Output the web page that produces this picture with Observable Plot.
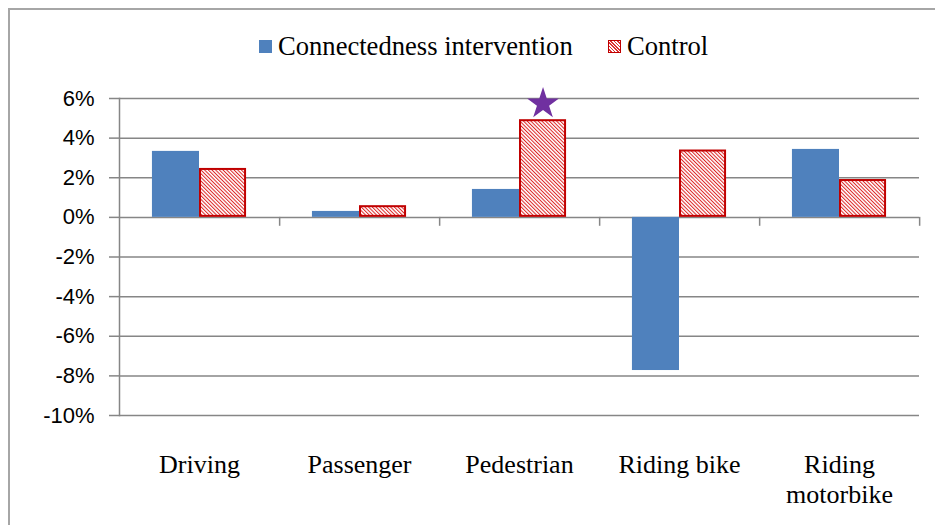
<!DOCTYPE html>
<html><head><meta charset="utf-8">
<script src="https://cdn.jsdelivr.net/npm/d3@7"></script>
<script src="https://cdn.jsdelivr.net/npm/@observablehq/plot@0.6"></script>
<style>
body{margin:0;background:#fff}
#wrap{position:relative;width:935px;height:525px;overflow:hidden;background:#fff}
#border{position:absolute;left:8px;top:8px;width:1000px;height:1000px;border-top:2px solid #a6a6a6;border-left:2px solid #a6a6a6;box-sizing:border-box;pointer-events:none}
#legend{position:relative;height:70px;font-family:"Liberation Serif",serif;font-size:26.6px;color:#000}
.item{position:absolute;top:33px;display:flex;align-items:center;line-height:26px;white-space:nowrap}
.sw{width:13px;height:13px;margin-right:6px;box-sizing:border-box}
</style></head>
<body><div id="wrap"><div id="legend"></div><div id="chart"></div><div id="border"></div></div>
<script>
const categories = ["Driving","Passenger","Pedestrian","Riding bike","Riding motorbike"];
const categoryLabels = ["Driving","Passenger","Pedestrian","Riding bike","Riding\nmotorbike"];
const seriesNames = ["Connectedness intervention","Control"];
const interventionValues = [3.33, 0.30, 1.41, -7.73, 3.43];
const controlValues = [2.47, 0.59, 4.93, 3.40, 1.91];
const yTicks = [-10,-8,-6,-4,-2,0,2,4,6];
const starCategory = "Pedestrian";
const starSeries = "Control";

const blue = "#4F81BD", red = "#C00000", grid = "#868686", purple = "#7030A0";

const rows = categories.flatMap((c,i)=>[
  {category:c, series:seriesNames[0], value:interventionValues[i]},
  {category:c, series:seriesNames[1], value:controlValues[i]}
]);

// legend
const legend = document.getElementById("legend");
legend.innerHTML = `
<div class="item" style="left:259px"><div class="sw" style="background:${blue}"></div><span>${seriesNames[0]}</span></div>
<div class="item" style="left:608px"><div class="sw" style="border:1.5px solid ${red};background:repeating-linear-gradient(45deg,#fff 0 1.2px,#d33 1.2px 2.4px)"></div><span>${seriesNames[1]}</span></div>`;

const W = 935, H = 455, mL = 118, mR = 15, mT = 28, mB = 110;
const pOuter = 0.7;
const facetW = (W - mL - mR) / categories.length;
const step = facetW / (2 + 2 * pOuter);
const edgeDx = facetW - (pOuter + 1.5) * step;

const starRow = rows.filter(d => d.category === starCategory && d.series === starSeries);

const chart = Plot.plot({
  width: W, height: H,
  marginLeft: mL, marginRight: mR, marginTop: mT, marginBottom: mB,
  style: {fontFamily: "Liberation Sans", fontSize: "22px", color: "#000", background: "transparent", overflow: "visible"},
  fx: {domain: categories, padding: 0, label: null, axis: null},
  x: {domain: seriesNames, paddingInner: 0, paddingOuter: pOuter, round: false, axis: null},
  y: {domain: [-10, 6], axis: null},
  marks: [
    Plot.gridY(yTicks, {stroke: grid, strokeOpacity: 1, strokeWidth: 1.5}),
    Plot.frame({anchor: "left", facetAnchor: "left", stroke: grid, strokeWidth: 1.5}),
    Plot.axisY(yTicks, {tickFormat: d => `${d}%`, tickSize: 10, tickPadding: 15, stroke: grid, strokeWidth: 1.5, fill: "#000", fontSize: 22, label: null, facetAnchor: "left"}),
    Plot.ruleX(rows.filter(d => d.series === seriesNames[1]), {fx: "category", x: "series", y1: 0, y2: -0.45, dx: edgeDx, stroke: grid, strokeWidth: 1.5}),
    Plot.barY(rows.filter(d => d.series === seriesNames[0]), {fx: "category", x: "series", y: "value", fill: blue}),
    Plot.barY(rows.filter(d => d.series === seriesNames[1]), {fx: "category", x: "series", y: "value", fill: "url(#hatch)", stroke: red, strokeWidth: 2, inset: 1}),
    Plot.dot(starRow, {fx: "category", x: "series", y: "value", symbol: "star", r: 10, fill: purple, stroke: "none", dy: -16}),
    Plot.axisFx({anchor: "bottom", tickSize: 0, tickPadding: 36, tickFormat: d => categoryLabels[categories.indexOf(d)], fontFamily: "Liberation Serif", fontSize: 26, lineHeight: 1.15, fill: "#000", label: null})
  ]
});

d3.select(chart).insert("defs", ":first-child").html(
  `<pattern id="hatch" patternUnits="userSpaceOnUse" width="2.6" height="2.6" patternTransform="rotate(-45)">
     <rect width="2.6" height="2.6" fill="#fff"/>
     <line x1="0.5" y1="0" x2="0.5" y2="2.6" stroke="#d22" stroke-width="1"/>
   </pattern>`);

document.getElementById("chart").appendChild(chart);
</script>
</body></html>
